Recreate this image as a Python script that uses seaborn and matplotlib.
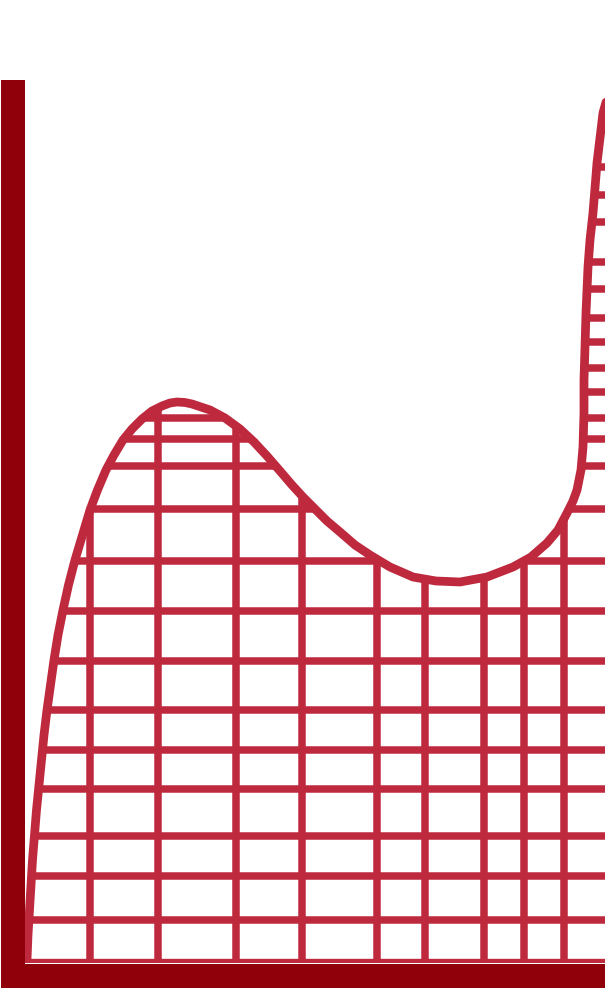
import pandas as pd
import seaborn as sns
import matplotlib.pyplot as plt

# curve (x to the right, y up from the baseline)
curve_x = [2, 3, 4.5, 6, 7.5, 9.5, 11.5, 14, 16.5, 19, 22, 25.5, 29, 33, 38, 43.5, 50,
           57.5, 65, 72.5, 81, 89, 98, 107, 117, 127, 137, 145, 152, 160, 167, 176, 185,
           200, 215, 229, 242, 255, 267, 278, 289, 302, 315, 330, 345, 365, 388, 411,
           435, 462, 488, 506, 522, 533, 542, 548, 552, 556, 558, 559, 559, 560, 561,
           562, 563, 565, 568, 570, 572, 575, 578, 583]
curve_y = [3, 28, 53, 78, 103, 128, 153, 178, 203, 228, 253, 278, 303, 328, 353, 378,
           403, 428, 453, 473, 493, 508, 523, 534, 544, 552, 557, 560, 561, 560.5, 559,
           556, 553, 545, 534, 521, 507, 492, 478, 466, 455, 442, 431, 418, 408, 396,
           386, 382, 381, 386, 396, 406, 420, 433, 450, 462, 473, 493, 516, 550, 583,
           616, 650, 673, 696, 723, 750, 775, 800, 825, 850, 868]

# hatch lines inside the area
grid_x = [65, 133, 211, 277, 352, 400, 459, 499, 539]
grid_y = [796, 768, 741, 701, 674, 645, 621, 595, 571, 545, 524, 497, 454, 402, 352,
          302, 253, 213, 174, 127, 87, 43]

red = '#be293e'
dark = '#8f000b'

sns.set_style('white')
fig = plt.figure(figsize=(6.05, 9.88), dpi=100)
ax = fig.add_axes([25 / 605, 25 / 988, 580 / 605, 883 / 988])

df = pd.DataFrame({'x': curve_x, 'y': curve_y})

area = ax.fill_between(df['x'], df['y'], 0, facecolor='white', edgecolor='none', zorder=1)
clip = area.get_paths()[0]

vl = ax.vlines(grid_x, 0, 900, colors=red, linewidth=5.4, zorder=2)
hl = ax.hlines(grid_y, 0, 600, colors=red, linewidth=5.4, zorder=2)
for c in (vl, hl):
    c.set_clip_path(clip, ax.transData)
ax.axhline(0, color=red, linewidth=6, zorder=2)

sns.lineplot(data=df, x='x', y='y', sort=False, estimator=None, color=red,
             linewidth=6.3, ax=ax, zorder=3, solid_joinstyle='round')

ax.set_xlim(0, 580)
ax.set_ylim(0, 883)
ax.set_xticks([])
ax.set_yticks([])
ax.set(xlabel='', ylabel='')

sns.despine(ax=ax)
ax.spines['left'].set_color(dark)
ax.spines['left'].set_linewidth(24 * 0.72)
ax.spines['left'].set_position(('outward', 12 * 0.72))
ax.spines['left'].set_bounds(-25, 883)
ax.spines['bottom'].set_color(dark)
ax.spines['bottom'].set_linewidth(25 * 0.72)
ax.spines['bottom'].set_position(('outward', 12.5 * 0.72))
ax.spines['bottom'].set_bounds(-24, 580)
for s in ('left', 'bottom'):
    ax.spines[s].set_zorder(4)
    ax.spines[s].set_capstyle('butt')

fig.savefig('out.png', dpi=100)
